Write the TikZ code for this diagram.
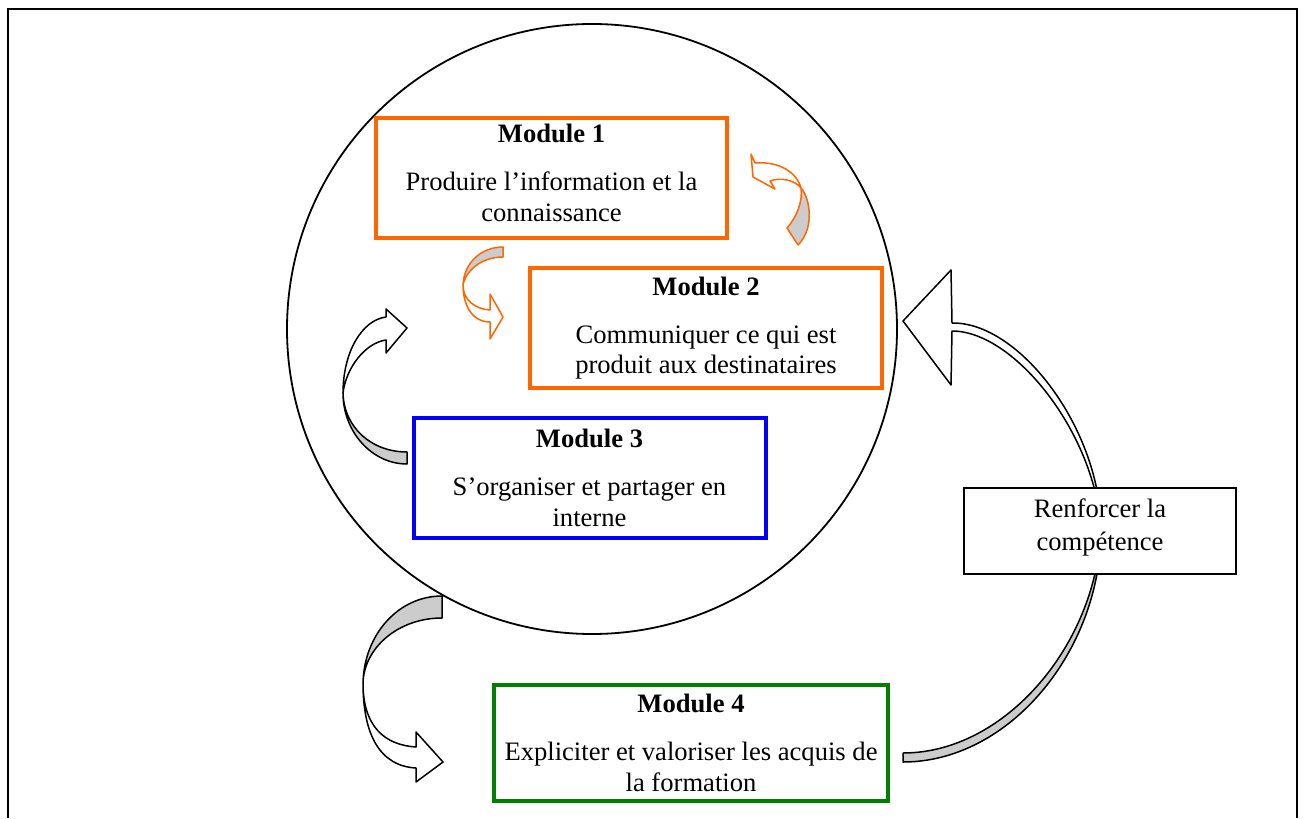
\documentclass[tikz,border=0pt]{standalone}
\usepackage{fontspec}
\setmainfont{Liberation Serif}
\definecolor{modorange}{RGB}{255,102,0}
\definecolor{modblue}{RGB}{0,0,255}
\definecolor{modgreen}{RGB}{0,128,0}
\definecolor{backgray}{RGB}{204,204,204}

\begin{document}
\begin{tikzpicture}[x=0.5pt, y=-0.5pt, font=\fontsize{13.3}{15.3}\selectfont,
  modbox/.style={draw=#1, line width=1.8pt, fill=white, align=center,
    minimum width=176pt, minimum height=60pt},
  textbox/.style={draw, line width=0.7pt, fill=white, align=center,
    minimum width=136pt, minimum height=43pt},
  backpart/.style={draw=#1, fill=backgray, line width=0.75pt, line join=round},
  frontpart/.style={draw=#1, fill=white, line width=0.75pt, line join=round}]
\useasboundingbox (0,0) rectangle (1304,818);

% frame and circle
\draw[line width=1pt] (8,818) -- (8,9) -- (1297,9) -- (1297,818);
\draw[line width=0.9pt] (592,329) circle[radius=152.5pt];

% orange arrow, top right
\draw[backpart=modorange] (801,188) .. controls (810,198) and (815,228) .. (798,245)
  -- (787,228) .. controls (796,218) and (803,202) .. (801,188) -- cycle;
\draw[frontpart=modorange] (801,188) .. controls (797,173) and (780,161) .. (755,163)
  -- (751,154) -- (753,177) -- (775,189) -- (770,181)
  .. controls (780,177) and (795,180) .. (801,188) -- cycle;

% orange arrow, left
\draw[backpart=modorange] (503,247) .. controls (482,247) and (464,262) .. (463,285)
  .. controls (466,270) and (482,257) .. (503,257) -- cycle;
\draw[frontpart=modorange] (463,285) .. controls (463,300) and (475,309) .. (490,310)
  -- (490,294) -- (503,317) -- (490,339) -- (490,322)
  .. controls (472,322) and (463,305) .. (463,285) -- cycle;

% black arrow, module 3
\draw[backpart=black] (407,452) .. controls (372,452) and (344,428) .. (343,393)
  .. controls (343,432) and (372,464) .. (407,464) -- cycle;
\draw[frontpart=black] (343,393) .. controls (343,352) and (362,320) .. (386,317)
  -- (386,309) -- (407,328) -- (386,353) -- (386,340)
  .. controls (365,343) and (346,368) .. (343,393) -- cycle;

% black arrow, towards module 4
\draw[backpart=black] (442,596) .. controls (398,596) and (364,635) .. (363,683)
  .. controls (364,648) and (398,618) .. (442,618) -- cycle;
\draw[frontpart=black] (363,683) .. controls (363,727) and (385,745) .. (416,747)
  -- (416,732) -- (443,762) -- (416,782) -- (416,768)
  .. controls (380,766) and (363,735) .. (363,683) -- cycle;

% big arrow on the right
\draw[backpart=black] (1101,530) .. controls (1101,650) and (1010,762) .. (903,762)
  -- (903,753) .. controls (1005,753) and (1096,645) .. (1101,530) -- cycle;
\draw[frontpart=black] (1101,530) .. controls (1101,430) and (1020,322) .. (952,323)
  -- (951,270) -- (903,321) -- (951,385) -- (952,331)
  .. controls (1015,331) and (1096,435) .. (1101,530) -- cycle;

% modules
\node[modbox=modorange, minimum width=175.5pt] (mod1) at (551.5,178)
  {\textbf{Module 1}\\[8.7pt]Produire l’information et la\\connaissance\rule[-5pt]{0pt}{5pt}};
\node[modbox=modorange] (mod2) at (706,328)
  {\textbf{Module 2}\\[8.7pt]Communiquer ce qui est\\produit aux destinataires};
\node[modbox=modblue, line width=2pt] (mod3) at (589.5,478)
  {\textbf{Module 3}\\[8.7pt]S’organiser et partager en\\interne};
\node[modbox=modgreen, line width=2pt, minimum width=197pt, minimum height=58pt] (mod4) at (691,743)
  {\textbf{Module 4}\\[8.7pt]Expliciter et valoriser les acquis de\\la formation};
\node[textbox, font=\fontsize{13.3}{16.5}\selectfont] (renf) at (1100,531)
  {Renforcer la\\compétence\rule[-6pt]{0pt}{6pt}};
\end{tikzpicture}
\end{document}
